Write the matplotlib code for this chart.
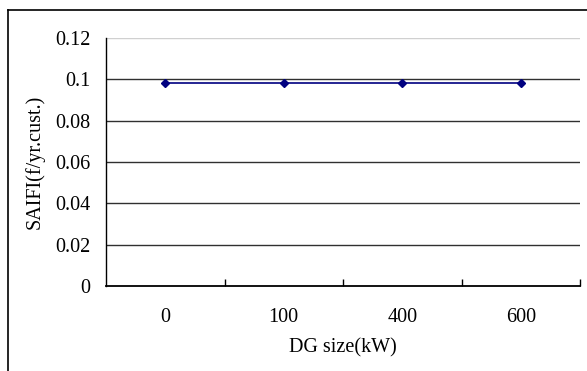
import matplotlib.pyplot as plt
from matplotlib.lines import Line2D

# data
dg_sizes = ['0', '100', '400', '600']
saifi = [0.098, 0.098, 0.098, 0.098]
y_ticks = [0, 0.02, 0.04, 0.06, 0.08, 0.1, 0.12]
y_tick_labels = ['0', '0.02', '0.04', '0.06', '0.08', '0.1', '0.12']

plt.rcParams['font.family'] = ['Liberation Serif', 'Noto Sans CJK SC', 'DejaVu Sans']
fs = 14.5

fig = plt.figure(figsize=(5.87, 3.71), dpi=100)
ax = fig.add_axes([106 / 587, 1 - 286 / 371, 474 / 587, 248 / 371])

x = list(range(len(dg_sizes)))
ax.plot(x, saifi, color='#000080', linewidth=1.2, marker='D', markersize=4.5, zorder=3)

ax.set_xlim(-0.5, len(dg_sizes) - 0.5)
ax.set_ylim(0, 0.12)

ax.set_yticks(y_ticks)
ax.set_yticklabels(y_tick_labels)
ax.set_xticks(x)
ax.set_xticklabels(dg_sizes)
ax.set_xticks([i + 0.5 for i in x], minor=True)

ax.tick_params(axis='y', length=0, pad=11, labelsize=fs)
ax.tick_params(axis='x', which='major', length=0, pad=16, labelsize=fs)
ax.tick_params(axis='x', which='minor', direction='in', length=5, width=1, color='black')

for yv in y_ticks[1:]:
    c = '#d0d0d0' if yv == 0.12 else '#303030'
    ax.axhline(yv, color=c, linewidth=1, zorder=1)

for side in ['top', 'right']:
    ax.spines[side].set_visible(False)
ax.spines['left'].set_linewidth(1)
ax.spines['bottom'].set_linewidth(1.3)

ax.set_ylabel('SAIFI(f/yr.cust.)', fontsize=fs, va='center')
ax.yaxis.set_label_coords(-71 / 474, 0.5)
ax.set_xlabel('DG size(kW)', fontsize=fs, va='center')
ax.xaxis.set_label_coords(0.5, -62 / 248)

# outer chart frame (cropped at right and bottom)
fig.add_artist(Line2D([8 / 587, 1.0], [1 - 10 / 371, 1 - 10 / 371], color='black', linewidth=1.2))
fig.add_artist(Line2D([8 / 587, 8 / 587], [0.0, 1 - 10 / 371], color='black', linewidth=1.2))

fig.savefig('out.png', dpi=100)
